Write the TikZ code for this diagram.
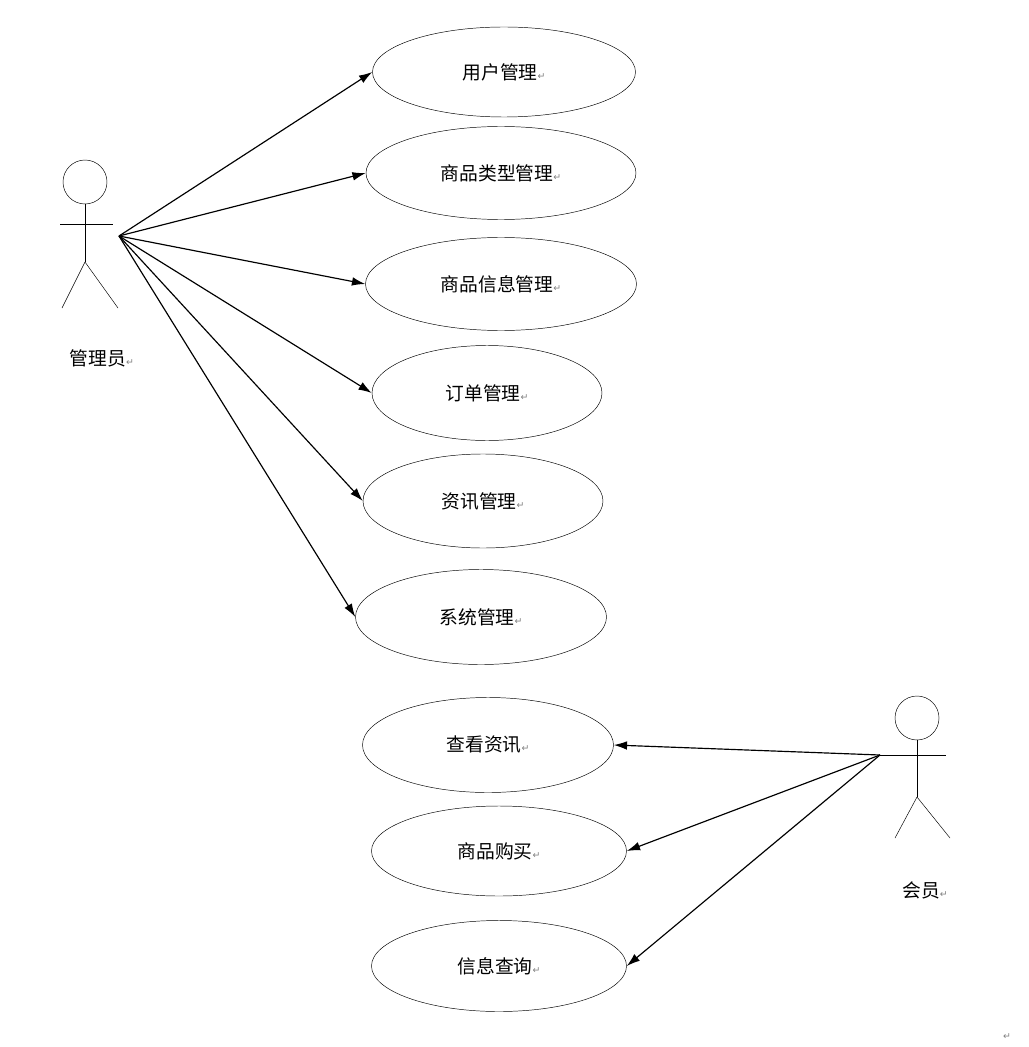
\documentclass[tikz,border=0pt]{standalone}
\usepackage{fontspec}
\setmainfont{Noto Sans CJK SC}
\newfontfamily\markfont{DejaVu Sans}
\usetikzlibrary{shapes.geometric, arrows.meta}
\newcommand{\parmark}{{\markfont\fontsize{8}{8}\selectfont\textcolor{gray}{↵}}}

\begin{document}
\begin{tikzpicture}[x=0.03cm, y=-0.03cm,
	usecase/.style={ellipse, draw, inner sep=0pt, font=\fontsize{16}{18}\selectfont},
	link/.style={-{Latex[length=4mm, width=2.6mm]}, line width=1pt}]
	\useasboundingbox (0,0) rectangle (1028,1047);

	% Actors
	\begin{scope}
		\node[circle, draw, minimum size=44*0.03cm, inner sep=0pt] (adminhead) at (85,182) {};
		\coordinate (admin) at (119,236);
		\draw (adminhead.south) -- (85,262);
		\draw (60,224) -- (113,224);
		\draw (85,262) -- (62,308);
		\draw (85,262) -- (118,308);
		\node[font=\fontsize{16}{18}\selectfont] (adminlabel) at (102,358) {管理员\parmark};

		\node[circle, draw, minimum size=44*0.03cm, inner sep=0pt] (memberhead) at (917,718) {};
		\coordinate (member) at (880,755);
		\draw (memberhead.south) -- (917,797);
		\draw (880,755) -- (946,755);
		\draw (917,797) -- (895,838);
		\draw (917,797) -- (950,838);
		\node[font=\fontsize{16}{18}\selectfont] (memberlabel) at (925,890) {会员\parmark};
	\end{scope}

	% Use cases
	\node[usecase, minimum width=263*0.03cm, minimum height=90*0.03cm] (yhgl) at (504,72) {用户管理\parmark};
	\node[usecase, minimum width=270*0.03cm, minimum height=93*0.03cm] (splx) at (501,173) {商品类型管理\parmark};
	\node[usecase, minimum width=271*0.03cm, minimum height=93*0.03cm] (spxx) at (501,284) {商品信息管理\parmark};
	\node[usecase, minimum width=230*0.03cm, minimum height=95*0.03cm] (ddgl) at (487,393) {订单管理\parmark};
	\node[usecase, minimum width=240*0.03cm, minimum height=94*0.03cm] (zxgl) at (483,501) {资讯管理\parmark};
	\node[usecase, minimum width=251*0.03cm, minimum height=95*0.03cm] (xtgl) at (481,617) {系统管理\parmark};
	\node[usecase, minimum width=251*0.03cm, minimum height=95*0.03cm] (ckzx) at (488,745) {查看资讯\parmark};
	\node[usecase, minimum width=255*0.03cm, minimum height=90*0.03cm] (spgm) at (499,851) {商品购买\parmark};
	\node[usecase, minimum width=255*0.03cm, minimum height=91*0.03cm] (xxcx) at (499,966) {信息查询\parmark};
	\node (endmark) at (1007,1037) {\parmark};

	% Associations
	\foreach \uc in {yhgl, splx, spxx, ddgl, zxgl, xtgl}
		\draw[link] (admin) -- (\uc.west);
	\foreach \uc in {ckzx, spgm, xxcx}
		\draw[link] (member) -- (\uc.east);
\end{tikzpicture}
\end{document}
